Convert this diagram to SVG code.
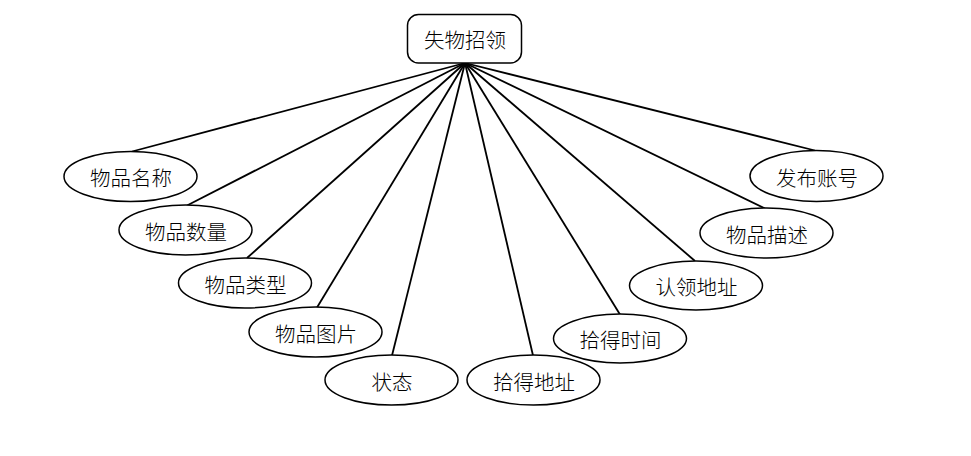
<svg xmlns="http://www.w3.org/2000/svg" width="971" height="456" viewBox="0 0 971 456">
<style>
.n{fill:#fff;stroke:#000;stroke-width:1.5}
.t{font-family:"Noto Sans CJK SC","Noto Sans",sans-serif;font-size:20.5px;font-weight:300;fill:#000;text-anchor:middle;dominant-baseline:central}
.c line{stroke:#000;stroke-width:1.8}
</style>
<rect width="971" height="456" fill="#fff"/>
<g class="c" id="connectors">
<line x1="465" y1="63" x2="132" y2="151.5"/>
<line x1="465" y1="63" x2="187" y2="205.5"/>
<line x1="465" y1="63" x2="247" y2="258"/>
<line x1="465" y1="63" x2="317" y2="307.5"/>
<line x1="465" y1="63" x2="392" y2="355.5"/>
<line x1="465" y1="63" x2="533" y2="355.5"/>
<line x1="465" y1="63" x2="620" y2="314.5"/>
<line x1="465" y1="63" x2="695" y2="261"/>
<line x1="465" y1="63" x2="765" y2="208.5"/>
<line x1="465" y1="63" x2="815" y2="150.5"/>
</g>
<g id="root"><rect class="n" x="407.5" y="14.5" width="114" height="48.5" rx="11"/><text class="t" x="465" y="39">失物招领</text></g>
<g id="n1"><ellipse class="n" cx="130.5" cy="176.5" rx="66.5" ry="25"/><text class="t" x="131" y="177">物品名称</text></g>
<g id="n2"><ellipse class="n" cx="185.5" cy="230" rx="66.5" ry="25"/><text class="t" x="186" y="230.5">物品数量</text></g>
<g id="n3"><ellipse class="n" cx="245" cy="283" rx="66.5" ry="25"/><text class="t" x="245.5" y="283.5">物品类型</text></g>
<g id="n4"><ellipse class="n" cx="315.5" cy="332" rx="66.5" ry="25"/><text class="t" x="316" y="332.5">物品图片</text></g>
<g id="n5"><ellipse class="n" cx="391.5" cy="380" rx="66.5" ry="25"/><text class="t" x="392" y="380.5">状态</text></g>
<g id="n6"><ellipse class="n" cx="533.5" cy="380" rx="66.5" ry="25"/><text class="t" x="534" y="380.5">拾得地址</text></g>
<g id="n7"><ellipse class="n" cx="620" cy="338.5" rx="66.5" ry="24.5"/><text class="t" x="620.5" y="339">拾得时间</text></g>
<g id="n8"><ellipse class="n" cx="696" cy="285.5" rx="66.5" ry="24.5"/><text class="t" x="696.5" y="286">认领地址</text></g>
<g id="n9"><ellipse class="n" cx="766.5" cy="233" rx="66.5" ry="25"/><text class="t" x="767" y="233.5">物品描述</text></g>
<g id="n10"><ellipse class="n" cx="816.5" cy="176" rx="66.5" ry="25.5"/><text class="t" x="817" y="176.5">发布账号</text></g>
</svg>
